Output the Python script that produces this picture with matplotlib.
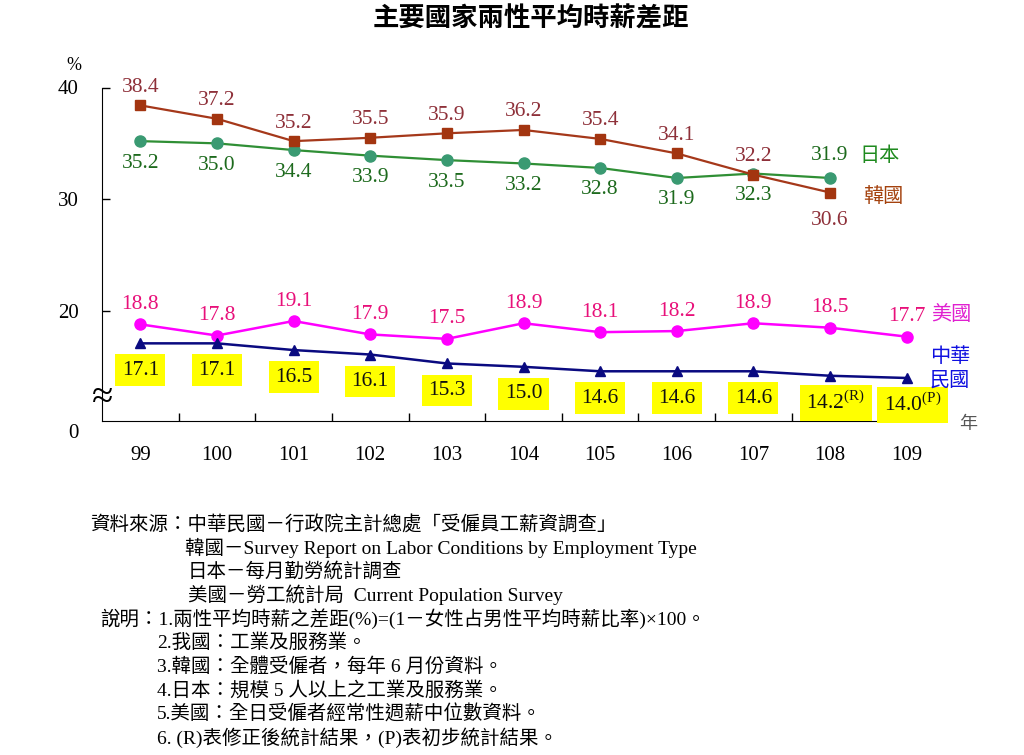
import matplotlib
matplotlib.use("Agg")
import matplotlib.pyplot as plt

plt.rcParams["font.family"] = ["Liberation Serif", "Noto Sans CJK TC"]
plt.rcParams["mathtext.fontset"] = "custom"
plt.rcParams["mathtext.rm"] = "Liberation Serif"

# ---- data ----
years = ["99", "100", "101", "102", "103", "104", "105", "106", "107", "108", "109"]
korea = [38.4, 37.2, 35.2, 35.5, 35.9, 36.2, 35.4, 34.1, 32.2, 30.6]
japan = [35.2, 35.0, 34.4, 33.9, 33.5, 33.2, 32.8, 31.9, 32.3, 31.9]
usa = [18.8, 17.8, 19.1, 17.9, 17.5, 18.9, 18.1, 18.2, 18.9, 18.5, 17.7]
taiwan = [17.1, 17.1, 16.5, 16.1, 15.3, 15.0, 14.6, 14.6, 14.6, 14.2, 14.0]
taiwan_marks = ["", "", "", "", "", "", "", "", "", "(R)", "(P)"]

title = "主要國家兩性平均時薪差距"
notes = [
    "資料來源：中華民國－行政院主計總處「受僱員工薪資調查」",
    "韓國－Survey Report on Labor Conditions by Employment Type",
    "日本－每月勤勞統計調查",
    "美國－勞工統計局  Current Population Survey",
    "說明：1.兩性平均時薪之差距(%)=(1－女性占男性平均時薪比率)×100。",
    "2.我國：工業及服務業。",
    "3.韓國：全體受僱者，每年 6 月份資料。",
    "4.日本：規模 5 人以上之工業及服務業。",
    "5.美國：全日受僱者經常性週薪中位數資料。",
    "6. (R)表修正後統計結果，(P)表初步統計結果。",
]

W, H = 1024, 755
fig = plt.figure(figsize=(W / 100, H / 100), dpi=100)
ax = fig.add_axes([102 / W, 1 - 421 / H, (945 - 102) / W, (421 - 87.5) / H])

x_all = list(range(len(years)))
x_kj = x_all[:len(korea)]

c_korea, c_korea_lab = "#a5381a", "#8e3039"
c_japan, c_japan_m, c_japan_lab = "#2f8f35", "#3a9a72", "#1d6a1d"
c_usa, c_usa_lab = "#ff00ff", "#e8107a"
c_tw = "#0a0a80"

ax.plot(x_kj, korea, color=c_korea, lw=1.6, marker="s", ms=7,
        mfc="#a33510", mec="#a33510", zorder=4)
ax.plot(x_kj, japan, color=c_japan, lw=1.6, marker="o", ms=8,
        mfc=c_japan_m, mec=c_japan_m, zorder=3)
ax.plot(x_all, usa, color=c_usa, lw=1.8, marker="o", ms=8,
        mfc=c_usa, mec=c_usa, zorder=3)
ax.plot(x_all, taiwan, color=c_tw, lw=1.8, marker="^", ms=7,
        mfc=c_tw, mec=c_tw, zorder=3)

fs = 15.5
# Korea labels above (last one below), Japan labels below (last one above)
for i, v in enumerate(korea):
    dy = 18 if i < len(korea) - 1 else -28
    ax.annotate(f"{v:.1f}", (i, v), xytext=(0, dy), textcoords="offset pixels",
                ha="center", va="center", fontsize=fs, color=c_korea_lab)
for i, v in enumerate(japan):
    dy = -22 if i < len(japan) - 1 else 22
    ax.annotate(f"{v:.1f}", (i, v), xytext=(0, dy), textcoords="offset pixels",
                ha="center", va="center", fontsize=fs, color=c_japan_lab)
for i, v in enumerate(usa):
    ax.annotate(f"{v:.1f}", (i, v), xytext=(0, 20), textcoords="offset pixels",
                ha="center", va="center", fontsize=fs, color=c_usa_lab)
for i, v in enumerate(taiwan):
    s = f"{v:.1f}"
    dx = 0
    if taiwan_marks[i]:
        s += r"$^{\mathrm{" + taiwan_marks[i] + "}}$"
        dx = 6
    ax.annotate(s, (i, v), xytext=(dx, -27), textcoords="offset pixels",
                ha="center", va="center", fontsize=fs, color="#111111",
                bbox=dict(boxstyle="square,pad=0.3", fc="#ffff00", ec="none"))

# series names
ax.annotate("日本", (len(japan) - 1, japan[-1]), xytext=(50, 21),
            textcoords="offset pixels", ha="center", va="center",
            fontsize=14.5, color="#1e8a1e", annotation_clip=False)
ax.annotate("韓國", (len(korea) - 1, korea[-1]), xytext=(53, -5),
            textcoords="offset pixels", ha="center", va="center",
            fontsize=14.5, color="#a4420e", annotation_clip=False)
ax.annotate("美國", (len(usa) - 1, usa[-1]), xytext=(45, 21),
            textcoords="offset pixels", ha="center", va="center",
            fontsize=14.5, color="#e020d0", annotation_clip=False)
ax.annotate("中華\n民國", (len(taiwan) - 1, taiwan[-1]), xytext=(43, 9),
            textcoords="offset pixels", ha="center", va="center",
            fontsize=14.5, color="#1010e0", linespacing=1.35,
            annotation_clip=False)

# axes styling
ax.set_xlim(-0.5, len(years) - 0.5)
ax.set_ylim(10.15, 40)
for side in ("top", "right"):
    ax.spines[side].set_visible(False)
ax.spines["left"].set_bounds(10.15, 40)
ax.set_yticks([20, 30, 40])
ax.set_yticklabels(["20", "30", "40"])
ax.set_xticks(x_all)
ax.set_xticklabels(years)
ax.set_xticks([i + 0.5 for i in range(len(years))], minor=True)
ax.tick_params(axis="y", direction="in", length=6, width=1, pad=17, labelsize=15)
ax.tick_params(axis="x", which="major", length=0, pad=18, labelsize=15)
ax.tick_params(axis="x", which="minor", direction="in", length=6, width=1)

fig.text(79 / W, 1 - 434 / H, "0", ha="right", va="center", fontsize=15)
fig.text(74 / W, 1 - 65 / H, "%", ha="center", va="center", fontsize=13)
fig.text(103 / W, 1 - 399 / H, "≈", ha="center", va="center", fontsize=28)
fig.text(968 / W, 1 - 425 / H, "年", ha="center", va="center",
         fontsize=13, color="#555555")

fig.text(531 / W, 1 - 19 / H, title, ha="center", va="center",
         fontsize=19, fontweight="bold")

note_x = [90, 185, 188, 188, 100, 157, 157, 157, 157, 157]
for k, line in enumerate(notes):
    fig.text(note_x[k] / W, 1 - (524 + 23.7 * k) / H, line,
             ha="left", va="center", fontsize=14)

fig.savefig("out.png", dpi=100)
